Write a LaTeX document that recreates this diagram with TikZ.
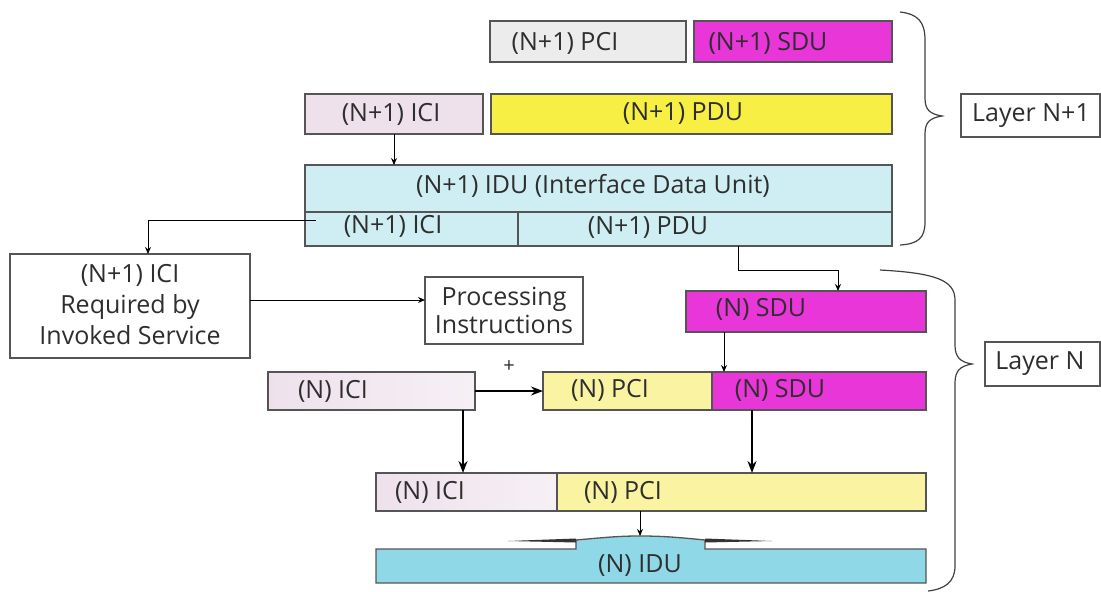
\documentclass[tikz,border=0pt]{standalone}
\usepackage{fontspec}
\setmainfont{Open Sans}
\usetikzlibrary{arrows.meta,calc}
\definecolor{pcigray}{HTML}{ECECEC}
\definecolor{mag}{HTML}{E836D8}
\definecolor{lav}{HTML}{EEE1EC}
\definecolor{lavmid}{HTML}{DCC2D9}
\definecolor{lavlight}{HTML}{F6F0F5}
\definecolor{yel}{HTML}{F8EF45}
\definecolor{cyl}{HTML}{CFEEF3}
\definecolor{lyel}{HTML}{FAF4A2}
\definecolor{cyd}{HTML}{8FD8E8}
\definecolor{edge}{HTML}{555555}
\newcommand\bx[6]{\node[#6, minimum width={#4-#2}, minimum height={#5-#3}] (#1) at ({(#2+#4)/2},{(#3+#5)/2}) {};}
\begin{document}
\begin{tikzpicture}[x=1pt,y=-1pt,
  box/.style={draw=edge, line width=1.3pt, rectangle, inner sep=0pt, outer sep=0pt},
  txt/.style={inner sep=0pt, font=\fontsize{25}{30}\selectfont, text=black!82},
  arr/.style={line width=1pt, -{Stealth[length=7pt,width=6pt]}},
  tarr/.style={line width=1.8pt, -{Stealth[length=12pt,width=9pt]}},
  brace/.style={line width=1.2pt, draw=black!75}]
\useasboundingbox (0,0) rectangle (1101,592);
% Layer N+1 boxes
\bx{pci1}{490}{21}{686}{62}{box,fill=pcigray}
\bx{sdu1}{694}{21}{892}{62}{box,fill=mag}
\bx{iciT}{305}{94}{483}{134}{box,fill=lav}
\bx{pdu1}{491}{94}{892}{134}{box,fill=yel}
\bx{idu1}{305}{165}{892}{246}{box,fill=cyl}
\draw[edge, line width=1.3pt] (305,212) -- (892,212);
\draw[edge, line width=1.3pt] (518,212) -- (518,246);
\node[txt] (tpci1) at (565,43) {(N+1) PCI};
\node[txt] (tsdu1) at (768,43) {(N+1) SDU};
\node[txt] (ticiT) at (391,114) {(N+1) ICI};
\node[txt] (tpdu1) at (683,114) {(N+1) PDU};
\node[txt] (tidu1) at (593,186) {(N+1) IDU (Interface Data Unit)};
\node[txt] (tidic) at (393,226) {(N+1) ICI};
\node[txt] (tidpd) at (648,228) {(N+1) PDU};
% side boxes
\bx{iciR}{10}{254}{250}{358}{box,fill=white}
\node[txt, align=center, font=\fontsize{25}{31}\selectfont] (ticiR) at (130,305) {(N+1) ICI\\Required by\\Invoked Service};
\bx{proc}{425}{277}{583}{344}{box,fill=white}
\node[txt, align=center, font=\fontsize{25}{28}\selectfont] (tproc) at (504,310) {Processing\\Instructions};
% Layer N boxes
\bx{nsdu1}{686}{291}{926}{332}{box,fill=mag}
\node[txt] (tnsdu1) at (761,309) {(N) SDU};
\bx{nici1}{268}{372}{475}{410}{box,left color=lav,middle color=lavmid,right color=lavlight}
\node[txt] (tnici1) at (333,391) {(N) ICI};
\bx{npci1}{543}{372}{712}{410}{box,fill=lyel}
\bx{nsdu2}{712}{372}{926}{410}{box,fill=mag}
\node[txt] (tnpci1) at (610,390) {(N) PCI};
\node[txt] (tnsdu2) at (780,390) {(N) SDU};
\node[txt, font=\fontsize{20}{24}\selectfont] (plus) at (509,367) {+};
\bx{nici2}{376}{473}{557}{511}{box,left color=lav,middle color=lavmid,right color=lavlight}
\bx{npci2}{557}{473}{926}{511}{box,fill=lyel}
\node[txt] (tnici2) at (430,492) {(N) ICI};
\node[txt] (tnpci2) at (623,492) {(N) PCI};
% N IDU with notch
\draw[edge, line width=1.3pt, fill=cyd] (376,583) -- (376,549) -- (576,549) -- (576,540) .. controls (610,537) and (620,536) .. (640,536) .. controls (660,536) and (675,537) .. (705,540) -- (705,549) -- (926,549) -- (926,583) -- cycle;
\fill[black!80] (508,541) -- (576,538.5) -- (576,542.5) -- cycle;
\fill[black!80] (705,538.5) -- (772,541) -- (705,542.5) -- cycle;
\coordinate (niduTop) at (640,536);
\node[txt] (tnidu) at (640,566) {(N) IDU};
% Layer labels
\bx{lay1}{961}{94}{1100}{137}{box,fill=white}
\node[txt] (tlay1) at (1031,116) {Layer N+1};
\bx{lay0}{985}{342}{1100}{386}{box,fill=white}
\node[txt] (tlay0) at (1040,364) {Layer N};
% braces
\draw[brace] (900,12) .. controls (918,14) and (925,22) .. (925,40) -- (925,98) .. controls (925,110) and (930,114) .. (942,116) .. controls (930,118) and (925,122) .. (925,134) -- (925,222) .. controls (925,238) and (918,244) .. (900,245);
\draw[brace] (880,270) .. controls (935,273) and (955,280) .. (955,300) -- (955,345) .. controls (955,357) and (960,362) .. (972,364) .. controls (960,366) and (955,371) .. (955,383) -- (955,566) .. controls (955,582) and (945,589) .. (928,591);
% connectors
\draw[arr] (iciT.south) -- (idu1.north -| iciT.south);
\coordinate (iduL) at (316,220);
\draw[arr] (iduL) -| ([xshift=18pt]iciR.north);
\draw[arr] (iciR.east |- 0,300) -- (proc.west |- 0,300);
\coordinate (iduB) at (738,246);
\draw[arr] (iduB) |- (838,270) -- (nsdu1.north -| 838,0);
\draw[arr] (nsdu1.south -| 724,0) -- (nsdu2.north -| 724,0);
\draw[tarr] (nici1.east |- 0,391) -- (npci1.west |- 0,391);
\draw[tarr] (nici1.south -| 463,0) -- (nici2.north -| 463,0);
\draw[tarr] (nsdu2.south -| 752,0) -- (npci2.north -| 752,0);
\draw[arr] (npci2.south -| 640,0) -- (niduTop);
\end{tikzpicture}
\end{document}
